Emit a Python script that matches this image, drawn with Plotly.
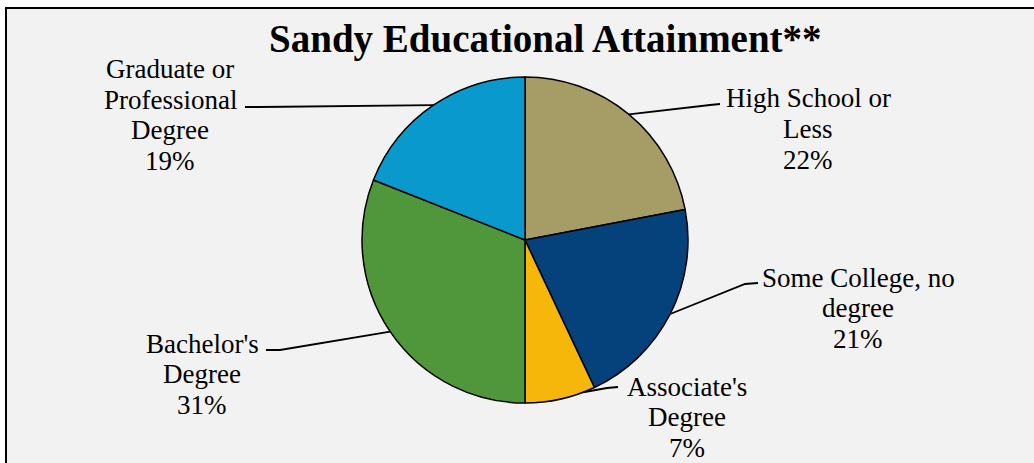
import math
import plotly.graph_objects as go

# Educational attainment shares (percent), clockwise from 12 o'clock
categories = ["High School or Less", "Some College, no degree", "Associate's Degree",
              "Bachelor's Degree", "Graduate or Professional Degree"]
shares = [22, 21, 7, 31, 19]
label_lines = [["High School or", "Less"], ["Some College, no", "degree"],
               ["Associate's", "Degree"], ["Bachelor's", "Degree"],
               ["Graduate or", "Professional", "Degree"]]
slice_colors = ["#A69C66", "#05417A", "#F7B70A", "#50963A", "#0A99CC"]

W, H = 1034, 463
CX, CY, R = 525, 240, 163          # pie centre and radius in pixels
LINE_GAP = 30.5                    # label line spacing in pixels

# Label layout: text block centre, leader elbow, leader end (pixels) and where
# along the slice the leader leaves the rim (fraction of the slice's sweep)
label_centre = [(808, 129), (858, 308), (687, 417), (202, 374), (170, 115)]
leader_elbow = [(710, 105), (745, 284), (607, 388), (280, 350), (260, 107)]
leader_end = [(720, 104), (758, 283), (618, 387), (266, 350), (245, 107)]
leader_frac = [0.5, 0.5, 0.17, 0.5, 0.5]


def px(x):
    return x / W


def py(y):
    return 1 - y / H


fig = go.Figure(go.Pie(
    labels=categories,
    values=shares,
    sort=False,
    direction="clockwise",
    rotation=0,
    marker=dict(colors=slice_colors, line=dict(color="#000000", width=1.5)),
    textinfo="none",
    hoverinfo="skip",
    showlegend=False,
    domain=dict(x=[px(CX - R), px(CX + R)], y=[py(CY + R), py(CY - R)]),
))

shapes = [
    # chart frame
    dict(type="rect", xref="paper", yref="paper",
         x0=px(6), x1=px(W + 20), y0=py(H + 20), y1=py(8),
         fillcolor="#F2F2F2", line=dict(color="#000000", width=2), layer="below"),
]

annotations = []
total = sum(shares)
cum = 0
for i, v in enumerate(shares):
    a0 = cum / total * 360
    a1 = (cum + v) / total * 360
    cum += v
    ang = math.radians(a0 + (a1 - a0) * leader_frac[i])
    sx = CX + R * math.sin(ang)
    sy = CY - R * math.cos(ang)
    ex, ey = leader_elbow[i]
    tx, ty = leader_end[i]
    shapes.append(dict(type="path", xref="paper", yref="paper",
                       path=f"M {px(sx)},{py(sy)} L {px(ex)},{py(ey)} L {px(tx)},{py(ty)}",
                       line=dict(color="#000000", width=1.8)))
    lines = label_lines[i] + [f"{v}%"]
    lx, ly = label_centre[i]
    top = ly - LINE_GAP * (len(lines) - 1) / 2
    for k, txt in enumerate(lines):
        annotations.append(dict(
            x=px(lx), y=py(top + k * LINE_GAP), xref="paper", yref="paper",
            text=txt, showarrow=False,
            xanchor="center", yanchor="middle", align="center",
            font=dict(family="Liberation Serif", size=27, color="#000000"),
        ))

annotations.append(dict(
    x=px(545), y=py(39), xref="paper", yref="paper",
    text="<b>Sandy Educational Attainment**</b>", showarrow=False,
    xanchor="center", yanchor="middle",
    font=dict(family="Liberation Serif", size=39, color="#000000"),
))

fig.update_layout(
    width=W, height=H,
    margin=dict(l=0, r=0, t=0, b=0),
    paper_bgcolor="#FFFFFF",
    plot_bgcolor="#FFFFFF",
    shapes=shapes,
    annotations=annotations,
)

fig.write_html("out.html")
